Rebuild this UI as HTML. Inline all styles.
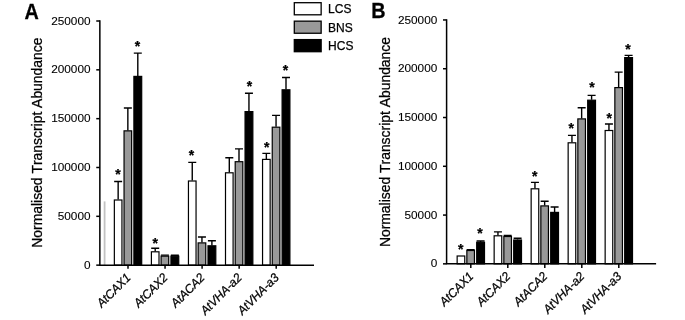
<!DOCTYPE html>
<html lang="en">
<head>
<meta charset="utf-8">
<title>Normalised Transcript Abundance</title>
<style>
html,body{margin:0;padding:0;background:#fff;}
body{width:685px;height:320px;overflow:hidden;}
svg{display:block;}
svg text{font-family:"Liberation Sans", Arial, sans-serif;fill:#000;stroke:#000;stroke-width:0.25px;font-kerning:none;}
</style>
</head>
<body>
<svg width="685" height="320" viewBox="0 0 685 320">
<rect x="0" y="0" width="685" height="320" fill="#fff"/>
<text transform="translate(24.4 18.8) scale(1 1.07)" font-size="19.8" font-weight="bold">A</text>
<text transform="translate(41.7 142.62) rotate(-90) scale(1 1.03)" font-size="13.9" text-anchor="middle">Normalised Transcript Abundance</text>
<text transform="translate(90.55 268.75)" font-size="11.8" text-anchor="end" style="stroke-width:0.1px">0</text>
<line x1="96.25" y1="265.15" x2="99.85" y2="265.15" stroke="#000" stroke-width="1.5"/>
<text transform="translate(90.55 219.92)" font-size="11.8" text-anchor="end" style="stroke-width:0.1px">50000</text>
<line x1="96.25" y1="216.32" x2="99.85" y2="216.32" stroke="#000" stroke-width="1.5"/>
<text transform="translate(90.55 171.09)" font-size="11.8" text-anchor="end" style="stroke-width:0.1px">100000</text>
<line x1="96.25" y1="167.49" x2="99.85" y2="167.49" stroke="#000" stroke-width="1.5"/>
<text transform="translate(90.55 122.26)" font-size="11.8" text-anchor="end" style="stroke-width:0.1px">150000</text>
<line x1="96.25" y1="118.66" x2="99.85" y2="118.66" stroke="#000" stroke-width="1.5"/>
<text transform="translate(90.55 73.43)" font-size="11.8" text-anchor="end" style="stroke-width:0.1px">200000</text>
<line x1="96.25" y1="69.83" x2="99.85" y2="69.83" stroke="#000" stroke-width="1.5"/>
<text transform="translate(90.55 24.6)" font-size="11.8" text-anchor="end" style="stroke-width:0.1px">250000</text>
<line x1="96.25" y1="21" x2="99.85" y2="21" stroke="#000" stroke-width="1.5"/>
<line x1="104.6" y1="201.4" x2="104.6" y2="265" stroke="#c2c2c2" stroke-width="1.8"/>
<path d="M118.15 199.6V181.5M114.15 181.5H122.15" stroke="#000" stroke-width="1.4" fill="none"/>
<rect x="114.35" y="200" width="7.6" height="65.15" fill="#fff" stroke="#000" stroke-width="1.2"/>
<text x="118.1" y="178.8" font-size="14" font-weight="bold" text-anchor="middle">*</text>
<path d="M127.85 130.45V108M123.85 108H131.85" stroke="#000" stroke-width="1.4" fill="none"/>
<rect x="124.05" y="130.85" width="7.6" height="134.3" fill="#999" stroke="#000" stroke-width="1.2"/>
<path d="M137.8 76V53.1M133.8 53.1H141.8" stroke="#000" stroke-width="1.4" fill="none"/>
<rect x="133.9" y="76.4" width="7.8" height="188.75" fill="#000" stroke="#000" stroke-width="1.2"/>
<text x="137.5" y="51.15" font-size="14" font-weight="bold" text-anchor="middle">*</text>
<line x1="128" y1="265.15" x2="128" y2="268.75" stroke="#000" stroke-width="1.5"/>
<text transform="translate(131.4 278.45) rotate(-45) scale(1 1.04)" font-size="11.8" font-style="italic" text-anchor="end">AtCAX1</text>
<path d="M155.2 251.4V248.2M151.2 248.2H159.2" stroke="#000" stroke-width="1.4" fill="none"/>
<rect x="151.4" y="251.8" width="7.6" height="13.35" fill="#fff" stroke="#000" stroke-width="1.2"/>
<text x="155.2" y="247.8" font-size="14" font-weight="bold" text-anchor="middle">*</text>
<path d="M164.9 255.75V255.1M160.9 255.1H168.9" stroke="#000" stroke-width="1.4" fill="none"/>
<rect x="161.1" y="256.15" width="7.6" height="9" fill="#999" stroke="#000" stroke-width="1.2"/>
<path d="M174.85 255.75V255.3M170.85 255.3H178.85" stroke="#000" stroke-width="1.4" fill="none"/>
<rect x="170.95" y="256.15" width="7.8" height="9" fill="#000" stroke="#000" stroke-width="1.2"/>
<line x1="165.05" y1="265.15" x2="165.05" y2="268.75" stroke="#000" stroke-width="1.5"/>
<text transform="translate(168.45 278.45) rotate(-45) scale(1 1.04)" font-size="11.8" font-style="italic" text-anchor="end">AtCAX2</text>
<path d="M192.25 180.6V162.4M188.25 162.4H196.25" stroke="#000" stroke-width="1.4" fill="none"/>
<rect x="188.45" y="181" width="7.6" height="84.15" fill="#fff" stroke="#000" stroke-width="1.2"/>
<text x="191.6" y="160.4" font-size="14" font-weight="bold" text-anchor="middle">*</text>
<path d="M201.95 242.5V237M197.95 237H205.95" stroke="#000" stroke-width="1.4" fill="none"/>
<rect x="198.15" y="242.9" width="7.6" height="22.25" fill="#999" stroke="#000" stroke-width="1.2"/>
<path d="M211.9 245.4V240.8M207.9 240.8H215.9" stroke="#000" stroke-width="1.4" fill="none"/>
<rect x="208" y="245.8" width="7.8" height="19.35" fill="#000" stroke="#000" stroke-width="1.2"/>
<line x1="202.1" y1="265.15" x2="202.1" y2="268.75" stroke="#000" stroke-width="1.5"/>
<text transform="translate(205.5 278.45) rotate(-45) scale(1 1.04)" font-size="11.8" font-style="italic" text-anchor="end">AtACA2</text>
<path d="M229.3 172.4V157.8M225.3 157.8H233.3" stroke="#000" stroke-width="1.4" fill="none"/>
<rect x="225.5" y="172.8" width="7.6" height="92.35" fill="#fff" stroke="#000" stroke-width="1.2"/>
<path d="M239 161.3V148.9M235 148.9H243" stroke="#000" stroke-width="1.4" fill="none"/>
<rect x="235.2" y="161.7" width="7.6" height="103.45" fill="#999" stroke="#000" stroke-width="1.2"/>
<path d="M248.95 111.2V93.3M244.95 93.3H252.95" stroke="#000" stroke-width="1.4" fill="none"/>
<rect x="245.05" y="111.6" width="7.8" height="153.55" fill="#000" stroke="#000" stroke-width="1.2"/>
<text x="249.5" y="90.9" font-size="14" font-weight="bold" text-anchor="middle">*</text>
<line x1="239.15" y1="265.15" x2="239.15" y2="268.75" stroke="#000" stroke-width="1.5"/>
<text transform="translate(242.55 278.45) rotate(-45) scale(1 1.04)" font-size="11.8" font-style="italic" text-anchor="end">AtVHA-a2</text>
<path d="M266.35 159V153.4M262.35 153.4H270.35" stroke="#000" stroke-width="1.4" fill="none"/>
<rect x="262.55" y="159.4" width="7.6" height="105.75" fill="#fff" stroke="#000" stroke-width="1.2"/>
<text x="266.7" y="152.3" font-size="14" font-weight="bold" text-anchor="middle">*</text>
<path d="M276.05 126.8V115.4M272.05 115.4H280.05" stroke="#000" stroke-width="1.4" fill="none"/>
<rect x="272.25" y="127.2" width="7.6" height="137.95" fill="#999" stroke="#000" stroke-width="1.2"/>
<path d="M286 89.4V77.5M282 77.5H290" stroke="#000" stroke-width="1.4" fill="none"/>
<rect x="282.1" y="89.8" width="7.8" height="175.35" fill="#000" stroke="#000" stroke-width="1.2"/>
<text x="285.6" y="75.2" font-size="14" font-weight="bold" text-anchor="middle">*</text>
<line x1="276.2" y1="265.15" x2="276.2" y2="268.75" stroke="#000" stroke-width="1.5"/>
<text transform="translate(279.6 278.45) rotate(-45) scale(1 1.04)" font-size="11.8" font-style="italic" text-anchor="end">AtVHA-a3</text>
<path d="M99.85 20.25V265.15H314" stroke="#000" stroke-width="1.5" fill="none" stroke-linejoin="miter"/>
<text transform="translate(371.2 17.7) scale(1 1.07)" font-size="19.8" font-weight="bold">B</text>
<text transform="translate(390.2 142.05) rotate(-90) scale(1 1.03)" font-size="13.9" text-anchor="middle">Normalised Transcript Abundance</text>
<text transform="translate(437.3 267.45)" font-size="11.8" text-anchor="end" style="stroke-width:0.1px">0</text>
<line x1="443" y1="263.85" x2="446.6" y2="263.85" stroke="#000" stroke-width="1.5"/>
<text transform="translate(437.3 218.67)" font-size="11.8" text-anchor="end" style="stroke-width:0.1px">50000</text>
<line x1="443" y1="215.07" x2="446.6" y2="215.07" stroke="#000" stroke-width="1.5"/>
<text transform="translate(437.3 169.89)" font-size="11.8" text-anchor="end" style="stroke-width:0.1px">100000</text>
<line x1="443" y1="166.29" x2="446.6" y2="166.29" stroke="#000" stroke-width="1.5"/>
<text transform="translate(437.3 121.11)" font-size="11.8" text-anchor="end" style="stroke-width:0.1px">150000</text>
<line x1="443" y1="117.51" x2="446.6" y2="117.51" stroke="#000" stroke-width="1.5"/>
<text transform="translate(437.3 72.33)" font-size="11.8" text-anchor="end" style="stroke-width:0.1px">200000</text>
<line x1="443" y1="68.73" x2="446.6" y2="68.73" stroke="#000" stroke-width="1.5"/>
<text transform="translate(437.3 23.55)" font-size="11.8" text-anchor="end" style="stroke-width:0.1px">250000</text>
<line x1="443" y1="19.95" x2="446.6" y2="19.95" stroke="#000" stroke-width="1.5"/>

<rect x="457.15" y="256" width="7.6" height="7.85" fill="#fff" stroke="#000" stroke-width="1.2"/>
<text x="460.8" y="253.9" font-size="14" font-weight="bold" text-anchor="middle">*</text>
<path d="M470.65 250.1V249.6M466.65 249.6H474.65" stroke="#000" stroke-width="1.4" fill="none"/>
<rect x="466.85" y="250.5" width="7.6" height="13.35" fill="#999" stroke="#000" stroke-width="1.2"/>
<path d="M480.6 241.9V241M476.6 241H484.6" stroke="#000" stroke-width="1.4" fill="none"/>
<rect x="476.7" y="242.3" width="7.8" height="21.55" fill="#000" stroke="#000" stroke-width="1.2"/>
<text x="480.1" y="238.3" font-size="14" font-weight="bold" text-anchor="middle">*</text>
<line x1="470.8" y1="263.85" x2="470.8" y2="267.95" stroke="#000" stroke-width="1.5"/>
<text transform="translate(474.2 277.15) rotate(-45) scale(1 1.04)" font-size="11.8" font-style="italic" text-anchor="end">AtCAX1</text>
<path d="M497.95 235.4V231.9M493.95 231.9H501.95" stroke="#000" stroke-width="1.4" fill="none"/>
<rect x="494.15" y="235.8" width="7.6" height="28.05" fill="#fff" stroke="#000" stroke-width="1.2"/>
<path d="M507.65 236.1V235.4M503.65 235.4H511.65" stroke="#000" stroke-width="1.4" fill="none"/>
<rect x="503.85" y="236.5" width="7.6" height="27.35" fill="#999" stroke="#000" stroke-width="1.2"/>
<path d="M517.6 239.6V238.2M513.6 238.2H521.6" stroke="#000" stroke-width="1.4" fill="none"/>
<rect x="513.7" y="240" width="7.8" height="23.85" fill="#000" stroke="#000" stroke-width="1.2"/>
<line x1="507.8" y1="263.85" x2="507.8" y2="267.95" stroke="#000" stroke-width="1.5"/>
<text transform="translate(511.2 277.15) rotate(-45) scale(1 1.04)" font-size="11.8" font-style="italic" text-anchor="end">AtCAX2</text>
<path d="M534.95 188.4V182.4M530.95 182.4H538.95" stroke="#000" stroke-width="1.4" fill="none"/>
<rect x="531.15" y="188.8" width="7.6" height="75.05" fill="#fff" stroke="#000" stroke-width="1.2"/>
<text x="534.7" y="181.3" font-size="14" font-weight="bold" text-anchor="middle">*</text>
<path d="M544.65 205.5V201.2M540.65 201.2H548.65" stroke="#000" stroke-width="1.4" fill="none"/>
<rect x="540.85" y="205.9" width="7.6" height="57.95" fill="#999" stroke="#000" stroke-width="1.2"/>
<path d="M554.6 212V207M550.6 207H558.6" stroke="#000" stroke-width="1.4" fill="none"/>
<rect x="550.7" y="212.4" width="7.8" height="51.45" fill="#000" stroke="#000" stroke-width="1.2"/>
<line x1="544.8" y1="263.85" x2="544.8" y2="267.95" stroke="#000" stroke-width="1.5"/>
<text transform="translate(548.2 277.15) rotate(-45) scale(1 1.04)" font-size="11.8" font-style="italic" text-anchor="end">AtACA2</text>
<path d="M571.95 142.4V135.4M567.95 135.4H575.95" stroke="#000" stroke-width="1.4" fill="none"/>
<rect x="568.15" y="142.8" width="7.6" height="121.05" fill="#fff" stroke="#000" stroke-width="1.2"/>
<text x="571.2" y="133" font-size="14" font-weight="bold" text-anchor="middle">*</text>
<path d="M581.65 118.5V107.7M577.65 107.7H585.65" stroke="#000" stroke-width="1.4" fill="none"/>
<rect x="577.85" y="118.9" width="7.6" height="144.95" fill="#999" stroke="#000" stroke-width="1.2"/>
<path d="M591.6 99.8V95.4M587.6 95.4H595.6" stroke="#000" stroke-width="1.4" fill="none"/>
<rect x="587.7" y="100.2" width="7.8" height="163.65" fill="#000" stroke="#000" stroke-width="1.2"/>
<text x="591.9" y="91.8" font-size="14" font-weight="bold" text-anchor="middle">*</text>
<line x1="581.8" y1="263.85" x2="581.8" y2="267.95" stroke="#000" stroke-width="1.5"/>
<text transform="translate(585.2 277.15) rotate(-45) scale(1 1.04)" font-size="11.8" font-style="italic" text-anchor="end">AtVHA-a2</text>
<path d="M608.95 130.1V124M604.95 124H612.95" stroke="#000" stroke-width="1.4" fill="none"/>
<rect x="605.15" y="130.5" width="7.6" height="133.35" fill="#fff" stroke="#000" stroke-width="1.2"/>
<text x="609.2" y="122.9" font-size="14" font-weight="bold" text-anchor="middle">*</text>
<path d="M618.65 87.2V72.1M614.65 72.1H622.65" stroke="#000" stroke-width="1.4" fill="none"/>
<rect x="614.85" y="87.6" width="7.6" height="176.25" fill="#999" stroke="#000" stroke-width="1.2"/>
<path d="M628.6 57.2V55.4M624.6 55.4H632.6" stroke="#000" stroke-width="1.4" fill="none"/>
<rect x="624.7" y="57.6" width="7.8" height="206.25" fill="#000" stroke="#000" stroke-width="1.2"/>
<text x="628.1" y="53.9" font-size="14" font-weight="bold" text-anchor="middle">*</text>
<line x1="618.8" y1="263.85" x2="618.8" y2="267.95" stroke="#000" stroke-width="1.5"/>
<text transform="translate(622.2 277.15) rotate(-45) scale(1 1.04)" font-size="11.8" font-style="italic" text-anchor="end">AtVHA-a3</text>
<path d="M446.6 19.2V263.85H656.1" stroke="#000" stroke-width="1.5" fill="none" stroke-linejoin="miter"/>
<rect x="294.3" y="2.7" width="26.85" height="12.1" fill="#fff" stroke="#000" stroke-width="1.3"/>
<text x="328.1" y="13.1" font-size="12">LCS</text>
<rect x="294.3" y="21.15" width="26.85" height="12.1" fill="#999" stroke="#000" stroke-width="1.3"/>
<text x="328.1" y="31.75" font-size="12">BNS</text>
<rect x="294.3" y="39.6" width="26.85" height="12.1" fill="#000" stroke="#000" stroke-width="1.3"/>
<text x="328.1" y="50.4" font-size="12">HCS</text>
</svg>
</body>
</html>
